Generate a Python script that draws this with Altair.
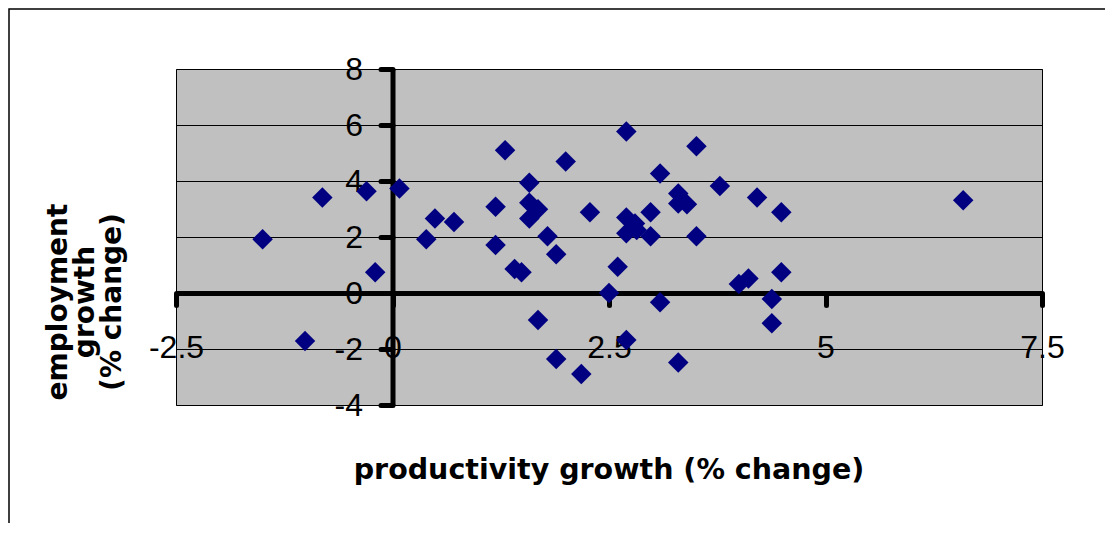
import altair as alt
import pandas as pd

# productivity growth (% change) and employment growth (% change)
prod_growth = [-1.50, -0.81, -1.01, -0.30, -0.20, 0.08, 0.39, 0.49, 0.71, 1.19,
               1.19, 1.30, 1.41, 1.49, 1.58, 1.58, 1.58, 1.68, 1.68, 1.79,
               1.89, 1.89, 2.00, 2.18, 2.28, 2.50, 2.60, 2.70, 2.70, 2.70,
               2.80, 2.82, 2.70, 2.98, 2.98, 3.09, 3.09, 3.30, 3.30, 3.40,
               3.30, 3.51, 3.51, 3.78, 4.00, 4.11, 4.21, 4.38, 4.38, 4.49,
               4.49, 6.59]
emp_growth = [1.92, 3.41, -1.71, 3.63, 0.74, 3.73, 1.92, 2.66, 2.54, 3.08,
              1.71, 5.10, 0.86, 0.74, 3.94, 3.22, 2.66, 2.99, -0.96, 2.03,
              1.38, -2.36, 4.70, -2.89, 2.88, 0.00, 0.94, 5.77, 2.70, 2.13,
              2.48, 2.25, -1.68, 2.88, 2.03, 4.27, -0.33, 3.55, 3.20, 3.17,
              -2.48, 5.24, 2.03, 3.82, 0.32, 0.52, 3.41, -0.21, -1.08, 2.88,
              0.74, 3.31]

x_ticks = [-2.5, 0, 2.5, 5, 7.5]
y_ticks = [-4, -2, 0, 2, 4, 6, 8]
x_title = "productivity growth (% change)"
y_title_lines = ["employment", "growth", "(% change)"]

W, H = 866, 336

df = pd.DataFrame({"x": prod_growth, "y": emp_growth})

xscale = alt.Scale(domain=[-2.5, 7.5], nice=False, zero=False)
yscale = alt.Scale(domain=[-4, 8], nice=False, zero=False)

x_axis = alt.Axis(
    orient="bottom", offset=-H / 3, values=x_ticks, grid=False,
    domainColor="black", domainWidth=5, tickColor="black", tickWidth=5,
    tickSize=12, tickCap="round", labelFont="Liberation Sans", labelFontSize=32,
    labelColor="black", labelPadding=52, labelBaseline="alphabetic",
    labelFlush=False, labelOverlap=False, labelExpr="'' + datum.value",
    title=None,
)
y_axis = alt.Axis(
    orient="left", offset=-W / 4, values=y_ticks, grid=True,
    gridColor="black", gridWidth=1, gridOpacity=1,
    domainColor="black", domainWidth=5, tickColor="black", tickWidth=5,
    tickSize=12, tickCap="round", labelFont="Liberation Sans", labelFontSize=32,
    labelColor="black", labelPadding=18, labelAlign="right",
    labelBaseline="middle", labelOverlap=False, labelFlush=False,
    labelExpr="'' + datum.value", title=None,
)

points = alt.Chart(df).mark_point(
    shape="diamond", filled=True, size=420, color="#000080", opacity=1,
    strokeWidth=0,
).encode(
    x=alt.X("x:Q", scale=xscale, axis=x_axis),
    y=alt.Y("y:Q", scale=yscale, axis=y_axis),
)

one = alt.Data(values=[{"a": 1}])

frame = alt.Chart(one).mark_rect(
    fillOpacity=0, stroke="black", strokeWidth=1.5
).encode(
    x=alt.value(-167), y=alt.value(-60), x2=alt.value(1500), y2=alt.value(1000)
)

xtitle = alt.Chart(one).mark_text(
    text=x_title, font="DejaVu Sans", fontSize=28.5, fontWeight="bold",
    align="center", baseline="alphabetic", color="black",
).encode(x=alt.value(W / 2), y=alt.value(410))

ytitle = alt.Chart(one).mark_text(
    text=y_title_lines, font="DejaVu Sans", fontSize=28, fontWeight="bold",
    align="center", baseline="middle", angle=270, lineHeight=27,
    color="black",
).encode(x=alt.value(-117), y=alt.value(233))

chart = alt.layer(frame, points, xtitle, ytitle).properties(
    width=W, height=H,
    padding={"left": 168, "top": 61, "right": 63, "bottom": 118},
    autosize=alt.AutoSizeParams(type="none"),
    background="white",
).configure_view(
    fill="#C0C0C0", stroke="black", strokeWidth=1,
)

chart.save("out.html", embed_options={"renderer": "svg", "actions": False})
